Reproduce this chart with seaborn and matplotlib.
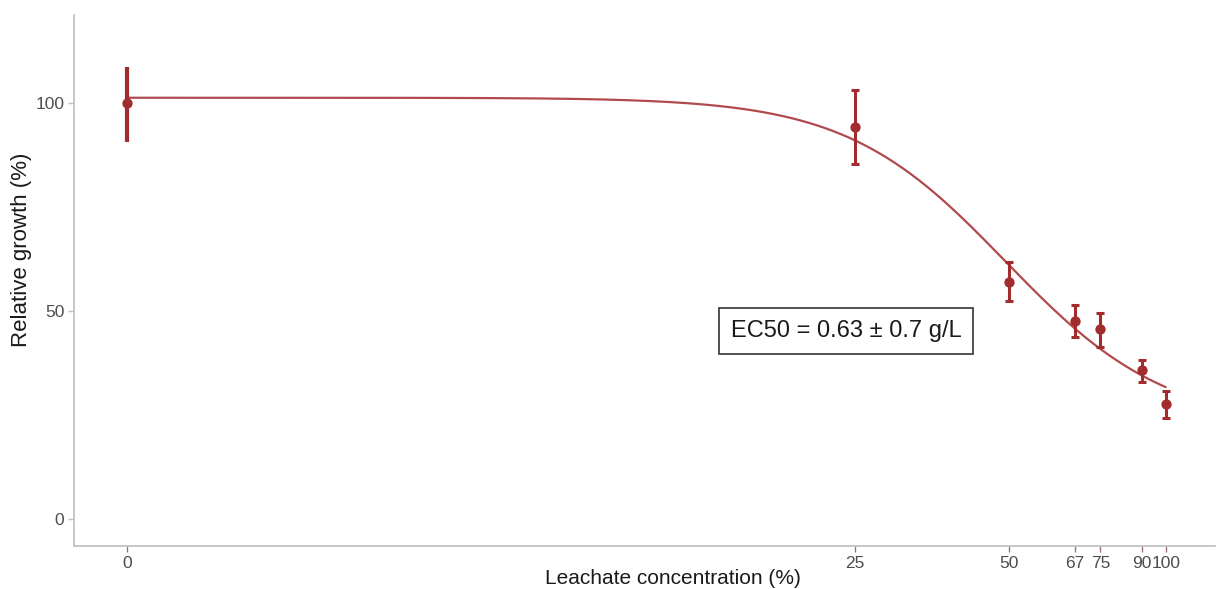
import numpy as np
import pandas as pd
import matplotlib
matplotlib.use("Agg")
import matplotlib.pyplot as plt
import seaborn as sns

# Data
conc = [0, 25, 50, 67, 75, 90, 100]
growth = [100.0, 94.3, 57.0, 47.6, 45.7, 35.8, 27.6]
err_low = [90.7, 85.3, 52.4, 43.8, 41.3, 32.9, 24.4]
err_high = [108.7, 103.1, 61.8, 51.4, 49.5, 38.2, 30.8]
tick_vals = [0, 25, 50, 67, 75, 90, 100]
y_ticks = [0, 50, 100]

# fitted log-logistic (drc-like) model parameters
fit_upper = 101.3
fit_lower = 22.0
fit_slope = 2.8
fit_ec50 = 49.5
annotation = "EC50 = 0.63 \u00b1 0.7 g/L"

sns.set_style("white")
plt.rcParams['font.family'] = ['Liberation Sans', 'DejaVu Sans']

fig = plt.figure(figsize=(12.18, 5.89), dpi=100)
ax = fig.add_axes([74/1218, 43/589, (1215-74)/1218, (546-15)/589])

OFF = 1.1
fwd = lambda x: np.log10(np.maximum(np.asarray(x, float) + OFF, 1e-9))
inv = lambda y: 10**np.asarray(y, float) - OFF
ax.set_xscale('function', functions=(fwd, inv))

xs = inv(np.linspace(fwd(0), fwd(100), 400))
xs = np.clip(xs, 0, 100)
ys = fit_lower + (fit_upper - fit_lower) / (1 + (xs / fit_ec50) ** fit_slope)
curve = pd.DataFrame({"x": xs, "y": ys})
sns.lineplot(data=curve, x="x", y="y", ax=ax, color="#B04A4C", lw=1.6, zorder=2,
             estimator=None, sort=False)

df = pd.DataFrame({"conc": conc, "growth": growth, "lo": err_low, "hi": err_high})
pt_color = "#A12B2D"
# zero-concentration point: thick bar without caps
z = df.iloc[:1]
ax.errorbar(z["conc"], z["growth"], yerr=[z["growth"] - z["lo"], z["hi"] - z["growth"]],
            fmt="none", ecolor=pt_color, elinewidth=3, capsize=0, zorder=3)
r = df.iloc[1:]
ax.errorbar(r["conc"], r["growth"], yerr=[r["growth"] - r["lo"], r["hi"] - r["growth"]],
            fmt="none", ecolor=pt_color, elinewidth=2.2, capsize=2.6, capthick=2.2, zorder=3)
sns.scatterplot(data=df, x="conc", y="growth", ax=ax, color=pt_color, s=55,
                edgecolor=pt_color, linewidth=0, zorder=4)

ax.set_xlim(-0.2267, 124.2)
ax.set_ylim(-6.5, 121.2)
ax.set_xticks(tick_vals)
ax.set_xticklabels([str(v) for v in tick_vals])
ax.set_yticks(y_ticks)
ax.set_yticklabels([str(v) for v in y_ticks])
ax.minorticks_off()
ax.tick_params(axis="both", bottom=True, left=True, length=4, width=1, labelsize=12.5,
               labelcolor="#4D4D4D", pad=3, direction="out")
ax.tick_params(axis="x", color="#9A7070")
ax.tick_params(axis="y", color="#D4B8B8")

for s in ["top", "right"]:
    ax.spines[s].set_visible(False)
for s in ["left", "bottom"]:
    ax.spines[s].set_color("#BDBDBD")
    ax.spines[s].set_linewidth(1.2)

ax.set_xlabel("Leachate concentration (%)", fontsize=15, color="#1A1A1A")
ax.set_ylabel("Relative growth (%)", fontsize=16, color="#1A1A1A")
ax.xaxis.set_label_coords((673-74)/(1215-74), -0.043)
ax.yaxis.set_label_coords(-0.037, (546-249.5)/(546-15))

ax.text((846-74)/(1215-74), (546-331)/(546-15), annotation, transform=ax.transAxes,
        ha="center", va="center", fontsize=17, color="#1A1A1A",
        bbox=dict(boxstyle="square,pad=0.5", fc="white", ec="#333333", lw=1.2))

fig.savefig("out.png", dpi=100, facecolor="white")
